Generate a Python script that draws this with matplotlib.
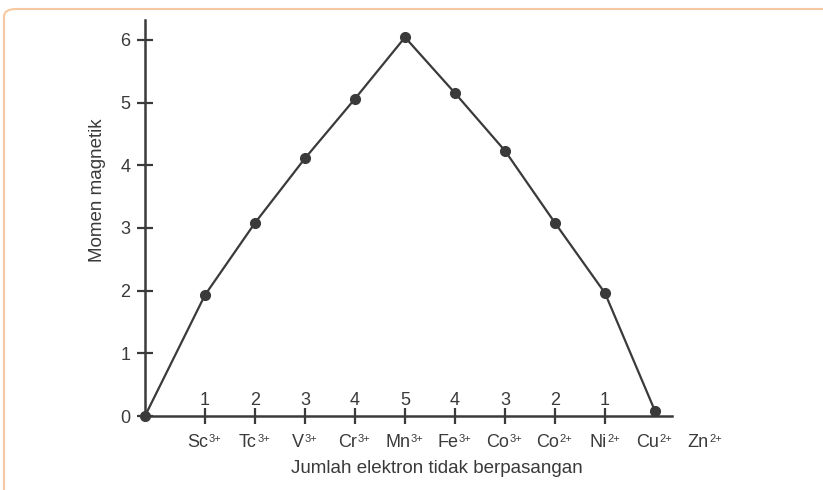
import matplotlib.pyplot as plt
from matplotlib.patches import FancyBboxPatch

plt.rcParams['font.family'] = ['Liberation Sans', 'DejaVu Sans']

# data
ions = ['Sc', 'Tc', 'V', 'Cr', 'Mn', 'Fe', 'Co', 'Co', 'Ni', 'Cu', 'Zn']
charges = ['3+', '3+', '3+', '3+', '3+', '3+', '3+', '2+', '2+', '2+', '2+']
unpaired = [1, 2, 3, 4, 5, 4, 3, 2, 1]
moment = [0, 1.93, 3.08, 4.11, 5.06, 6.04, 5.15, 4.23, 3.08, 1.96, 0.08]

ion_x = list(range(1, len(ions) + 1))
line_x = [-0.2] + ion_x[:10]

fg = '#3a3a3a'
fig = plt.figure(figsize=(8.23, 4.90), dpi=100)
fig.patch.set_facecolor('white')

# orange card frame
frame = FancyBboxPatch((4 / 823, -0.1), 1.2, 1.1 - 9 / 490,
                       boxstyle='round,pad=0,rounding_size=0.015',
                       transform=fig.transFigure, fill=False,
                       edgecolor='#f8c9a0', linewidth=1.5)
fig.patches.append(frame)

ax = fig.add_axes([145 / 823, (490 - 416) / 490, 527 / 823, 396 / 490])
ax.set_xlim(-0.2, 10.34)
ax.set_ylim(0, 6.316)
ax.set_facecolor('none')
for s in ['top', 'right']:
    ax.spines[s].set_visible(False)
for s in ['left', 'bottom']:
    ax.spines[s].set_color(fg)
    ax.spines[s].set_linewidth(1.8)

ax.plot(line_x, moment, color=fg, lw=1.6, marker='o', ms=7,
        clip_on=False, zorder=3)

ax.set_yticks(range(0, 7))
ax.tick_params(axis='y', direction='inout', length=11, width=1.6,
               color=fg, labelcolor=fg, labelsize=13, pad=5)
ax.set_xticks(ion_x[:10])
ax.set_xticklabels([])
ax.tick_params(axis='x', direction='inout', length=11, width=1.6,
               color=fg)
# no tick under Cu in the reference
ax.xaxis.get_major_ticks()[9].tick1line.set_visible(False)

for x, n in zip(ion_x, unpaired):
    ax.text(x, 0.25, str(n), ha='center', va='center', fontsize=13,
            color=fg)
for x, ion, ch in zip(ion_x, ions, charges):
    base = ax.text(x - 0.14, -0.43, ion, ha='center', va='center',
                   fontsize=13, color=fg, clip_on=False)
    ax.annotate(ch, xy=(1, 1), xycoords=base, xytext=(0.3, 0),
                textcoords='offset points', ha='left', va='top',
                fontsize=8, color=fg)

ax.text(5.64, -0.83, 'Jumlah elektron tidak berpasangan', ha='center',
        va='center', fontsize=13.5, color=fg)
ax.text(-1.16, 3.6, 'Momen magnetik', rotation=90, ha='center',
        va='center', fontsize=13.5, color=fg)

fig.savefig('out.png', dpi=100)
